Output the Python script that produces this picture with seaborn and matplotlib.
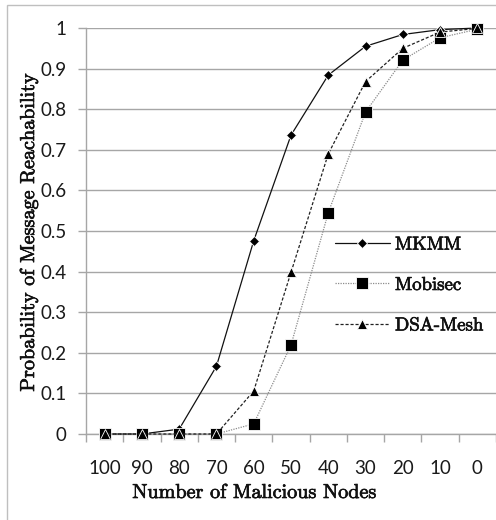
import matplotlib
matplotlib.use("Agg")
import matplotlib.pyplot as plt
from matplotlib.patches import Rectangle
from matplotlib.font_manager import FontProperties
import matplotlib.patheffects as pe
import numpy as np
import pandas as pd
import seaborn as sns

# Number of malicious nodes (shown decreasing from left to right)
nodes = [100, 90, 80, 70, 60, 50, 40, 30, 20, 10, 0]

# Probability of message reachability for each scheme
mkmm = [0.0, 0.0, 0.012, 0.167, 0.476, 0.736, 0.884, 0.955, 0.984, 0.996, 1.0]
mobisec = [0.0, 0.0, 0.0, 0.0, 0.025, 0.219, 0.545, 0.793, 0.921, 0.976, 0.997]
dsa_mesh = [0.0, 0.0, 0.0, 0.0, 0.106, 0.398, 0.690, 0.868, 0.950, 0.990, 0.999]

series_names = ["MKMM", "Mobisec", "DSA-Mesh"]
y_ticks = [0, 0.1, 0.2, 0.3, 0.4, 0.5, 0.6, 0.7, 0.8, 0.9, 1]
y_tick_labels = ["0", "0.1", "0.2", "0.3", "0.4", "0.5", "0.6", "0.7", "0.8", "0.9", "1"]

sns.set_theme(style="white")
plt.rcParams["font.family"] = ["Lato", "DejaVu Sans"]

serif = "cmr10"
grid_col = "#a6a6a6"
text_col = "#111111"
heavy = [pe.withStroke(linewidth=0.5, foreground=text_col)]

fig = plt.figure(figsize=(4.96, 5.2), dpi=100)
ax = fig.add_axes([86 / 496, 1 - 434 / 520, 1 - 86 / 496, (434 - 28) / 520])

styles = {
    "MKMM": dict(marker="D", linestyle="-", color="#111111", markersize=5.6, lw=0.9),
    "Mobisec": dict(marker="s", linestyle=(0, (1, 1)), color="#8c8c8c", markersize=8.0, lw=0.9),
    "DSA-Mesh": dict(marker="^", linestyle=(0, (2.5, 1.5)), color="#222222", markersize=7.0, lw=0.9),
}
values = {"MKMM": mkmm, "Mobisec": mobisec, "DSA-Mesh": dsa_mesh}

for name in series_names:
    st = styles[name]
    df = pd.DataFrame({"nodes": nodes, "prob": values[name]})
    sns.lineplot(
        data=df, x="nodes", y="prob", ax=ax, label=name,
        color=st["color"], linestyle=st["linestyle"], linewidth=st["lw"],
        marker=st["marker"], markersize=st["markersize"],
        markerfacecolor="black", markeredgecolor="white", markeredgewidth=0.6,
        clip_on=False, zorder=3,
    )

ax.set_xlim(105, -5)
ax.set_ylim(0, 1)

# horizontal gridlines only
ax.set_yticks(y_ticks)
ax.set_yticklabels(y_tick_labels)
ax.yaxis.grid(True, color=grid_col, linewidth=1.0)
ax.xaxis.grid(False)
ax.set_axisbelow(True)

# category labels without marks, marks between categories
ax.set_xticks(nodes)
ax.set_xticklabels([str(n) for n in nodes])
ax.set_xticks(np.arange(105, -6, -10), minor=True)
ax.tick_params(axis="x", which="major", length=0, pad=18.5, labelsize=13.5, colors="#1a1a1a")
ax.tick_params(axis="x", which="minor", length=6, width=1.0, color=grid_col, direction="out", bottom=True)
ax.tick_params(axis="y", which="major", length=6, width=1.0, color=grid_col, direction="out",
               left=True, pad=8, labelsize=13.5, labelcolor="#1a1a1a")

for side in ["top", "right"]:
    ax.spines[side].set_visible(False)
for side in ["left", "bottom"]:
    ax.spines[side].set_color(grid_col)
    ax.spines[side].set_linewidth(1.0)

ax.set_xlabel("")
ax.set_ylabel("")
fig.text(254 / 496, 1 - 493 / 520, "Number of Malicious Nodes", family=serif, fontsize=14.5,
         ha="center", va="center", color=text_col, path_effects=heavy)
fig.text(29 / 496, 1 - 233 / 520, "Probability of Message Reachability", family=serif, fontsize=14.5,
         ha="center", va="center", rotation=90, color=text_col, path_effects=heavy)

leg = ax.legend(
    loc="center left", bbox_to_anchor=(335 / 496, 1 - 285 / 520), bbox_transform=fig.transFigure,
    frameon=False, prop=FontProperties(family=serif, size=13.5), handlelength=2.93,
    handletextpad=0.27, labelspacing=1.2, borderpad=0, borderaxespad=0,
)
for t in leg.get_texts():
    t.set_color(text_col)
    t.set_path_effects(heavy)

# outer chart border
fig.patches.append(Rectangle((7 / 496, -0.1), 1.2, 0.1 + 1 - 5 / 520, transform=fig.transFigure,
                             fill=False, edgecolor="#bfbfbf", linewidth=1.0))

fig.savefig("out.png", dpi=100)
